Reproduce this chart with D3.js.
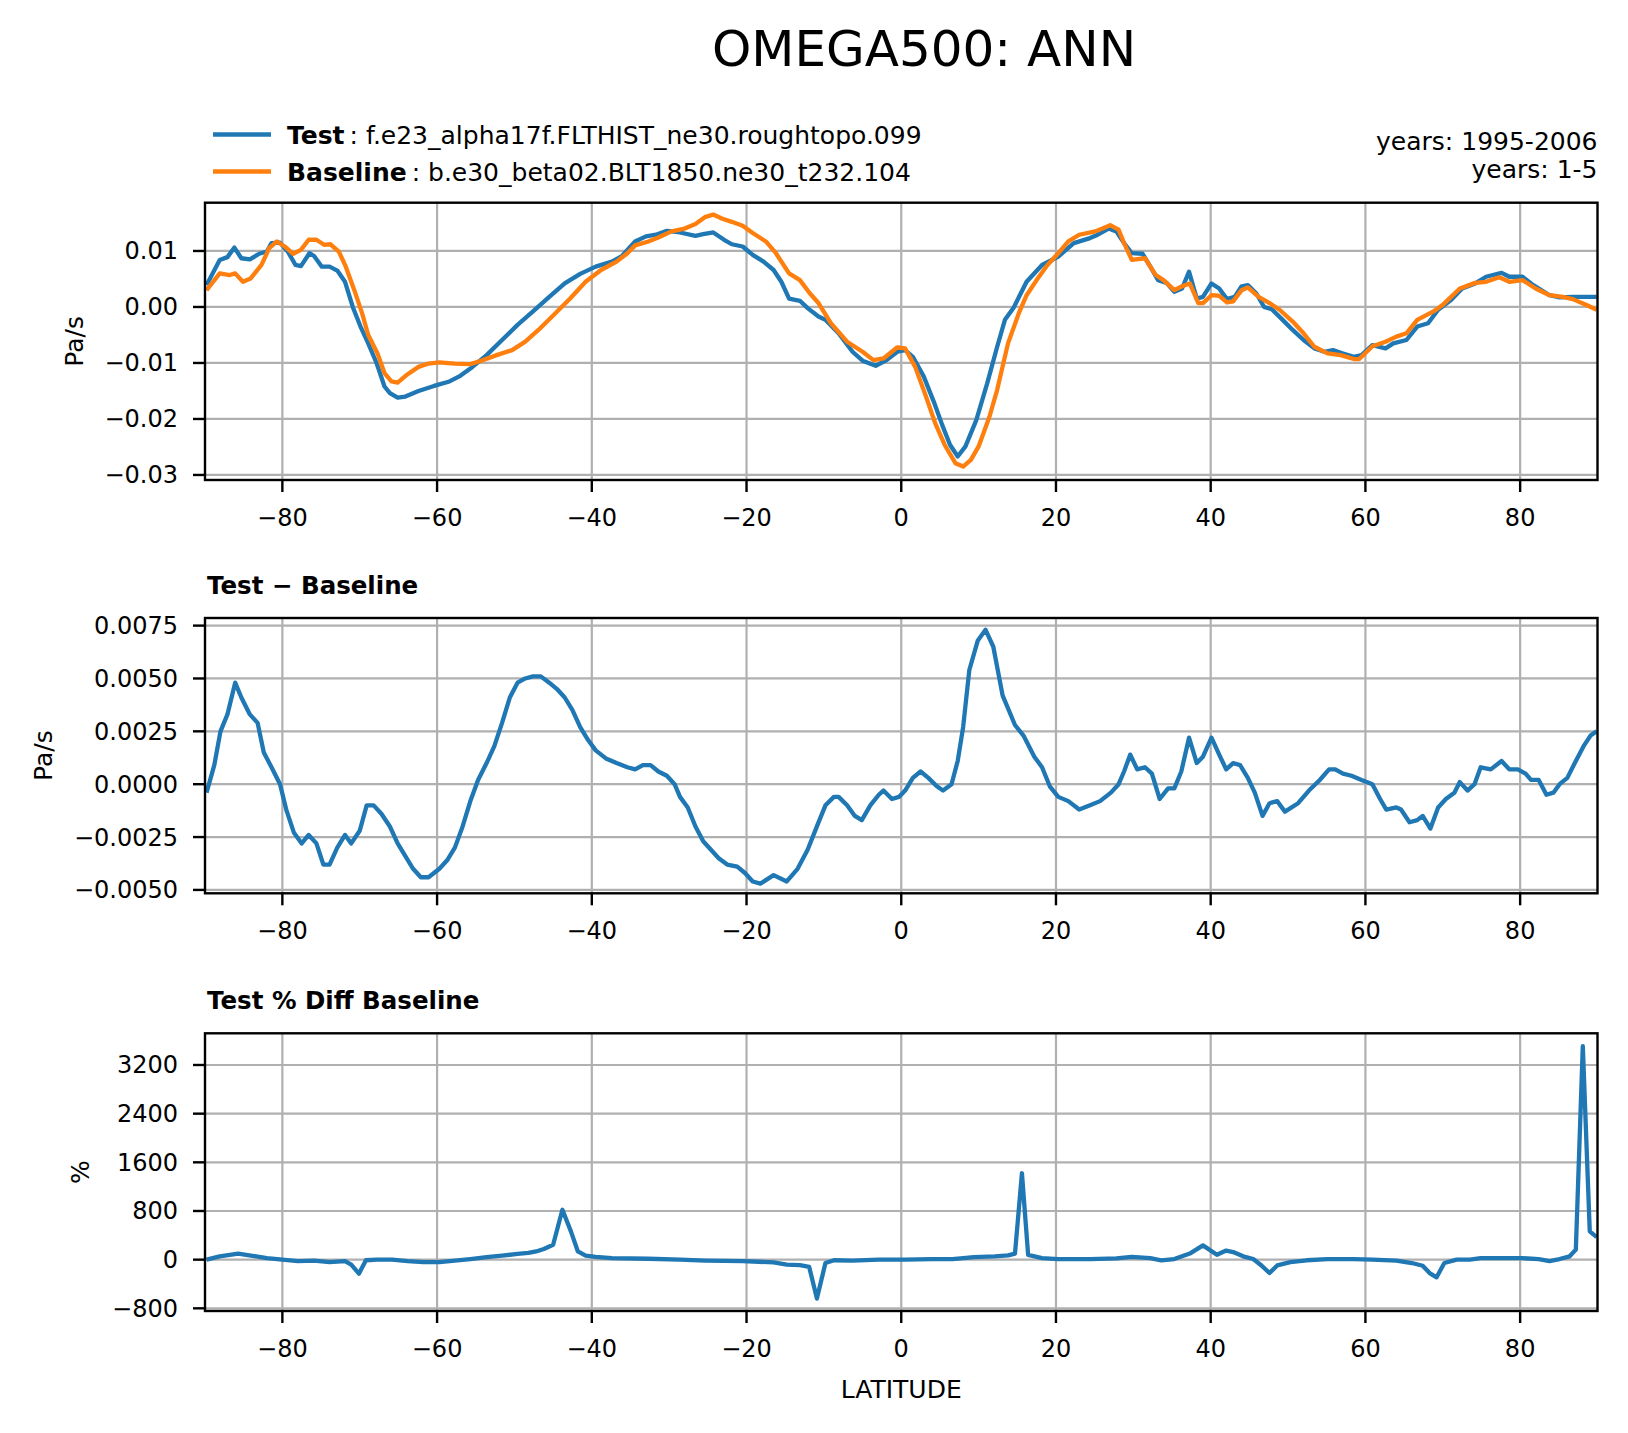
<!DOCTYPE html>
<html>
<head>
<meta charset="utf-8">
<script src="https://cdn.jsdelivr.net/npm/d3@7"></script>
<style>
  body { margin: 0; background: #fff; }
  svg text { font-family: 'DejaVu Sans', sans-serif; fill: #000; }
</style>
</head>
<body>
<div id="chart"></div>
<script>
// ── Data (latitude in degrees)
const testLat = [-89.8,-88.1,-87.1,-86.2,-85.3,-84.2,-83.0,-82.0,-81.4,-80.3,-79.3,-78.3,-77.6,-76.5,-75.9,-74.9,-73.9,-72.9,-71.9,-70.9,
  -69.9,-68.9,-67.8,-66.8,-66.1,-65.1,-64.1,-62.4,-60.4,-58.4,-57.0,-55.7,-53.6,-51.6,-49.6,-47.6,-45.5,-43.5,-41.5,-39.5,
  -37.4,-36.1,-34.4,-33.0,-31.7,-30.3,-28.6,-26.6,-25.6,-24.3,-22.9,-21.9,-20.5,-19.2,-17.8,-16.5,-15.5,-14.5,-13.1,-12.1,
  -10.7,-9.8,-8.1,-6.3,-5.0,-3.3,-1.9,-0.5,0.5,1.5,2.9,4.2,5.3,6.3,7.3,8.3,9.7,11.1,12.4,13.4,
  14.5,16.2,18.2,20.3,22.3,24.4,25.4,26.8,27.8,28.8,29.8,31.2,32.2,33.2,34.3,35.3,36.3,37.2,38.2,39.0,
  40.1,41.1,42.1,43.1,44.0,44.8,45.9,46.9,47.9,49.3,50.6,52.0,53.4,54.7,55.8,57.1,58.5,59.5,60.9,62.6,
  63.6,65.3,66.7,68.1,69.4,71.1,72.5,74.2,75.6,77.6,78.6,80.3,81.7,83.8,85.1,86.8,89.9];
const testOmega = [0.0039,0.0084,0.0089,0.0106,0.0087,0.0085,0.0095,0.0099,0.0114,0.0115,0.0099,0.0075,0.0073,0.0096,0.0091,0.0072,0.0072,0.0065,0.0045,0.0,
  -0.0035,-0.0065,-0.0101,-0.0142,-0.0154,-0.0162,-0.016,-0.015,-0.0141,-0.0133,-0.0123,-0.011,-0.0086,-0.0059,-0.0032,-0.0008,0.0018,0.0042,0.0059,0.0072,
  0.0081,0.0091,0.0117,0.0126,0.0129,0.0136,0.0133,0.0127,0.013,0.0133,0.012,0.0112,0.0108,0.0093,0.0081,0.0066,0.0045,0.0015,0.0011,-0.0002,
  -0.0017,-0.0023,-0.0047,-0.008,-0.0096,-0.0105,-0.0095,-0.008,-0.0077,-0.0089,-0.0124,-0.0169,-0.0211,-0.0246,-0.0267,-0.0249,-0.0202,-0.0137,-0.0071,-0.0023,
  -0.0002,0.0045,0.0075,0.009,0.0114,0.0123,0.0129,0.014,0.0135,0.0114,0.0096,0.0095,0.0072,0.0048,0.0043,0.0027,0.0033,0.0063,0.0015,0.0018,
  0.0042,0.0033,0.0014,0.0018,0.0037,0.0039,0.0024,0.0,-0.0004,-0.0023,-0.0041,-0.0059,-0.0074,-0.008,-0.0077,-0.0083,-0.0089,-0.0086,-0.0068,-0.0074,
  -0.0065,-0.0059,-0.0035,-0.0029,-0.0005,0.0013,0.0033,0.0042,0.0054,0.0061,0.0054,0.0054,0.0039,0.0021,0.0017,0.0018,0.0018];

const baseLat = [-89.8,-88.1,-86.8,-86.1,-85.1,-84.1,-82.7,-81.7,-80.7,-79.7,-78.6,-77.6,-76.6,-75.6,-74.6,-73.8,-72.7,-71.8,-70.7,-69.7,
  -68.9,-67.7,-66.8,-65.9,-65.1,-63.8,-62.4,-61.1,-59.7,-57.7,-55.7,-54.3,-52.3,-50.3,-48.6,-46.9,-44.9,-42.8,-40.8,-38.8,
  -36.8,-35.4,-34.4,-32.7,-31.4,-29.7,-28.0,-26.6,-25.3,-24.3,-23.2,-21.9,-20.5,-19.2,-17.5,-16.2,-14.5,-13.1,-11.8,-10.7,
  -9.1,-7.0,-5.0,-3.6,-2.3,-0.5,0.5,1.8,3.2,4.4,5.6,7.0,8.0,9.0,10.0,11.4,12.4,13.8,15.2,16.2,
  17.5,18.9,20.3,21.6,23.0,25.1,27.0,28.1,28.8,29.8,31.5,32.9,33.9,35.3,36.3,37.3,38.4,39.0,40.1,41.1,
  42.1,42.9,44.0,44.8,46.2,47.6,48.9,50.6,52.0,53.4,55.1,56.8,58.5,59.2,60.9,62.6,64.0,65.3,66.7,68.8,
  70.1,72.2,74.2,75.6,77.3,78.6,80.3,82.0,83.8,85.5,86.8,88.5,89.9];
const baseOmega = [0.003,0.006,0.0057,0.006,0.0045,0.0051,0.0075,0.0105,0.0117,0.0108,0.0095,0.0102,0.012,0.012,0.0111,0.0112,0.0099,0.0072,0.003,-0.0011,
  -0.005,-0.0083,-0.0118,-0.0133,-0.0135,-0.012,-0.0107,-0.0101,-0.0099,-0.0101,-0.0102,-0.0096,-0.0086,-0.0077,-0.0062,-0.0041,-0.0014,0.0015,0.0045,0.0066,
  0.0081,0.0096,0.011,0.0117,0.0124,0.0135,0.014,0.0148,0.0161,0.0165,0.0158,0.0152,0.0145,0.0132,0.0117,0.0096,0.006,0.0048,0.0024,0.0007,
  -0.0029,-0.0062,-0.008,-0.0095,-0.0092,-0.0072,-0.0074,-0.0107,-0.016,-0.0208,-0.0246,-0.0279,-0.0285,-0.0273,-0.0249,-0.0196,-0.0148,-0.0065,-0.0011,0.0021,
  0.0048,0.0075,0.0096,0.0117,0.0129,0.0135,0.0146,0.0138,0.0114,0.0084,0.0087,0.0057,0.0048,0.003,0.0037,0.0042,0.0007,0.0007,0.0021,0.002,
  0.0008,0.001,0.003,0.0035,0.0018,0.0007,-0.0005,-0.0026,-0.0047,-0.0071,-0.0083,-0.0086,-0.0093,-0.0093,-0.007,-0.0062,-0.0053,-0.0047,-0.0023,-0.0008,
  0.0005,0.0033,0.0043,0.0045,0.0053,0.0045,0.0048,0.0033,0.0021,0.0018,0.0014,0.0004,-0.0005];

const diffLat = [-89.8,-88.8,-88.0,-87.1,-86.1,-85.3,-84.2,-83.2,-82.4,-81.4,-80.3,-79.5,-78.5,-77.5,-76.6,-75.6,-74.7,-73.9,-72.9,-71.9,
  -71.1,-70.0,-69.1,-68.2,-67.2,-66.1,-65.1,-64.1,-63.1,-62.1,-61.1,-59.7,-58.7,-57.7,-56.7,-55.7,-54.7,-53.6,-52.6,-51.6,
  -50.6,-49.6,-48.6,-47.6,-46.6,-45.5,-44.5,-43.5,-42.5,-41.5,-40.5,-39.5,-38.1,-36.8,-35.4,-34.4,-33.4,-32.4,-31.4,-30.3,
  -29.3,-28.6,-27.6,-26.6,-25.6,-24.6,-23.6,-22.5,-21.2,-20.2,-19.2,-18.2,-16.5,-14.8,-13.4,-12.1,-10.8,-9.8,-8.7,-8.1,
  -7.0,-6.0,-5.1,-4.0,-2.9,-2.3,-1.2,-0.3,0.5,1.5,2.5,3.5,4.6,5.4,6.5,7.3,8.0,8.8,9.9,10.9,
  11.9,13.1,14.7,15.8,17.2,18.2,19.2,20.3,21.6,23.0,24.4,25.7,27.1,28.1,28.8,29.6,30.5,31.5,32.4,33.4,
  34.5,35.3,36.2,37.2,38.2,39.0,40.1,41.1,42.0,42.9,43.8,44.8,45.7,46.7,47.6,48.6,49.6,51.3,52.7,54.1,
  55.3,56.1,57.1,58.2,59.5,60.9,61.9,62.7,64.0,64.6,65.7,66.7,67.4,68.4,69.4,70.4,71.5,72.2,73.2,74.1,
  74.9,76.2,77.6,78.6,79.7,80.7,81.4,82.4,83.4,84.3,85.1,86.1,87.2,88.2,89.1,89.9];
const diffOmega = [-0.0004,0.0009,0.0025,0.0033,0.0048,0.0041,0.0033,0.0029,0.0015,0.0008,0.0,-0.0012,-0.0023,-0.0028,-0.0024,-0.0028,-0.0038,-0.0038,-0.003,-0.0024,
  -0.0028,-0.0022,-0.001,-0.001,-0.0014,-0.002,-0.0028,-0.0034,-0.004,-0.0044,-0.0044,-0.004,-0.0036,-0.003,-0.002,-0.0008,0.0002,0.001,0.0018,0.0029,
  0.0041,0.0048,0.005,0.0051,0.0051,0.0048,0.0045,0.0041,0.0035,0.0027,0.0021,0.0016,0.0012,0.001,0.0008,0.0007,0.0009,0.0009,0.0006,0.0004,
  0.0,-0.0006,-0.0011,-0.002,-0.0027,-0.0031,-0.0035,-0.0038,-0.0039,-0.0042,-0.0046,-0.0047,-0.0043,-0.0046,-0.004,-0.0031,-0.0019,-0.001,-0.0006,-0.0006,
  -0.001,-0.0015,-0.0017,-0.001,-0.0005,-0.0003,-0.0007,-0.0006,-0.0003,0.0003,0.0006,0.0003,-0.0001,-0.0003,0.0,0.0011,0.0027,0.0054,0.0068,0.0073,
  0.0065,0.0042,0.0028,0.0023,0.0013,0.0008,-0.0001,-0.0006,-0.0008,-0.0012,-0.001,-0.0008,-0.0004,0.0,0.0006,0.0014,0.0007,0.0008,0.0005,-0.0007,
  -0.0002,-0.0002,0.0006,0.0022,0.001,0.0013,0.0022,0.0014,0.0007,0.001,0.0009,0.0003,-0.0004,-0.0015,-0.0009,-0.0008,-0.0013,-0.0009,-0.0003,0.0002,
  0.0007,0.0007,0.0005,0.0004,0.0002,0.0,-0.0007,-0.0012,-0.0011,-0.0012,-0.0018,-0.0017,-0.0015,-0.0021,-0.0011,-0.0007,-0.0004,0.0001,-0.0003,0.0,
  0.0008,0.0007,0.0011,0.0007,0.0007,0.0005,0.0002,0.0002,-0.0005,-0.0004,0.0,0.0003,0.0011,0.0018,0.0023,0.0025];

const pctLat = [-89.8,-88.1,-86.8,-85.7,-84.7,-83.4,-82.0,-80.0,-78.0,-75.9,-73.9,-71.9,-71.1,-70.1,-69.2,-67.8,-65.8,-63.8,-61.8,-59.7,
  -57.7,-55.7,-53.6,-51.6,-49.6,-48.2,-47.2,-46.2,-45.0,-43.8,-42.7,-41.8,-40.8,-39.5,-37.4,-32.7,-28.6,-25.3,-20.5,-16.5,
  -14.8,-13.1,-11.9,-10.9,-9.8,-8.7,-6.3,-2.9,0.5,3.9,6.6,9.4,12.1,13.8,14.7,15.6,16.4,18.2,20.3,24.4,
  27.8,29.8,32.2,33.6,35.3,37.3,39.0,40.8,42.0,42.9,44.2,45.5,46.6,47.6,48.6,50.3,52.4,55.1,58.5,60.9,
  64.0,66.0,67.4,68.3,69.2,70.2,71.8,73.5,74.9,77.6,80.3,82.4,83.8,85.1,86.4,87.2,88.1,89.0,89.9];
const pctDiff = [0,55,80,100,80,55,25,0,-25,-15,-40,-25,-80,-230,-10,0,0,-25,-40,-40,
  -15,10,40,65,95,110,135,175,245,820,465,135,65,45,25,15,0,-15,-25,-45,
  -80,-90,-120,-640,-55,-10,-15,0,0,10,10,40,55,70,100,1420,80,25,10,10,
  20,45,25,-10,10,100,235,80,150,125,55,10,-100,-220,-95,-40,-10,10,10,0,
  -15,-55,-100,-220,-290,-55,0,0,25,25,25,10,-25,10,55,165,3510,465,370];

const xTicks = [-80, -60, -40, -20, 0, 20, 40, 60, 80];
const omegaTicks = [-0.03, -0.02, -0.01, 0.00, 0.01];
const diffTicks = [-0.005, -0.0025, 0, 0.0025, 0.005, 0.0075];
const pctTicks = [-800, 0, 800, 1600, 2400, 3200];

// ── Layout (pixels of the 1628×1433 figure)
const W = 1628, H = 1433;
const X0 = 205, X1 = 1597.5;
const BLUE = '#1f77b4', ORANGE = '#ff7f0e';
const GRID = '#b0b0b0';
const FS = 24;      // tick labels
const LFS = 25;     // labels, legend, annotations

const svg = d3.select('#chart').append('svg')
  .attr('width', W).attr('height', H)
  .style('display', 'block');

const x = d3.scaleLinear().domain([-90, 90]).range([X0, X1]);

svg.append('text')
  .attr('x', 924).attr('y', 66)
  .attr('text-anchor', 'middle')
  .attr('font-size', '50px')
  .text('OMEGA500: ANN');

function drawPanel(p, idx) {
  const y = d3.scaleLinear().domain(p.yDomain).range([p.bottom, p.top]);
  const g = svg.append('g');

  g.append('clipPath').attr('id', 'clip' + idx)
    .append('rect')
    .attr('x', X0).attr('y', p.top)
    .attr('width', X1 - X0).attr('height', p.bottom - p.top);

  // grid
  g.selectAll('.gx').data(xTicks).enter().append('line')
    .attr('x1', d => x(d)).attr('x2', d => x(d))
    .attr('y1', p.top).attr('y2', p.bottom)
    .attr('stroke', GRID).attr('stroke-width', 2.2);
  g.selectAll('.gy').data(p.ticks).enter().append('line')
    .attr('x1', X0).attr('x2', X1)
    .attr('y1', d => y(d)).attr('y2', d => y(d))
    .attr('stroke', GRID).attr('stroke-width', 2.2);

  // data lines
  const line = d3.line().x(d => x(d[0])).y(d => y(d[1]));
  p.series.forEach(s => {
    g.append('path')
      .datum(d3.zip(s.lat, s.val))
      .attr('d', line)
      .attr('clip-path', `url(#clip${idx})`)
      .attr('fill', 'none')
      .attr('stroke', s.color)
      .attr('stroke-width', 4.3)
      .attr('stroke-linejoin', 'round');
  });

  // spines
  g.append('rect')
    .attr('x', X0).attr('y', p.top)
    .attr('width', X1 - X0).attr('height', p.bottom - p.top)
    .attr('fill', 'none').attr('stroke', '#000').attr('stroke-width', 2.4);

  // x axis ticks and labels
  xTicks.forEach(t => {
    g.append('line')
      .attr('x1', x(t)).attr('x2', x(t))
      .attr('y1', p.bottom).attr('y2', p.bottom + 12)
      .attr('stroke', '#000').attr('stroke-width', 2.4);
    g.append('text')
      .attr('x', x(t)).attr('y', p.bottom + 46)
      .attr('text-anchor', 'middle')
      .attr('font-size', FS + 'px')
      .text(d3.format('d')(t));
  });

  // y axis ticks and labels
  p.ticks.forEach(t => {
    g.append('line')
      .attr('x1', X0 - 12).attr('x2', X0)
      .attr('y1', y(t)).attr('y2', y(t))
      .attr('stroke', '#000').attr('stroke-width', 2.4);
    g.append('text')
      .attr('x', X0 - 27).attr('y', y(t) + 8.5)
      .attr('text-anchor', 'end')
      .attr('font-size', FS + 'px')
      .text(p.fmt(t));
  });

  // y label
  const cy = (p.top + p.bottom) / 2;
  g.append('text')
    .attr('transform', `translate(${p.ylabelX},${cy}) rotate(-90)`)
    .attr('text-anchor', 'middle')
    .attr('font-size', LFS + 'px')
    .text(p.ylabel);

  if (p.title) {
    g.append('text')
      .attr('x', X0 + 2).attr('y', p.top - 24)
      .attr('font-size', '24.5px').attr('font-weight', 'bold')
      .text(p.title);
  }
}

const panels = [
  { top: 202.7, bottom: 480, yDomain: [-0.0309, 0.01862], ticks: omegaTicks,
    fmt: d3.format('.2f'), ylabel: 'Pa/s', ylabelX: 83,
    series: [{ lat: testLat, val: testOmega, color: BLUE },
             { lat: baseLat, val: baseOmega, color: ORANGE }] },
  { top: 618, bottom: 893.3, yDomain: [-0.00516, 0.00786], ticks: diffTicks,
    fmt: d3.format('.4f'), ylabel: 'Pa/s', ylabelX: 52, title: 'Test \u2212 Baseline',
    series: [{ lat: diffLat, val: diffOmega, color: BLUE }] },
  { top: 1033.3, bottom: 1311, yDomain: [-844, 3721], ticks: pctTicks,
    fmt: d3.format('d'), ylabel: '%', ylabelX: 88.5, title: 'Test % Diff Baseline',
    series: [{ lat: pctLat, val: pctDiff, color: BLUE }] }
];
panels.forEach(drawPanel);

// ── Legend (above first panel)
const legend = [
  { name: 'Test', run: 'f.e23_alpha17f.FLTHIST_ne30.roughtopo.099', color: BLUE, y: 134.5 },
  { name: 'Baseline', run: 'b.e30_beta02.BLT1850.ne30_t232.104', color: ORANGE, y: 171.5 }
];
legend.forEach(l => {
  svg.append('line')
    .attr('x1', 213).attr('x2', 271)
    .attr('y1', l.y).attr('y2', l.y)
    .attr('stroke', l.color).attr('stroke-width', 4.3);
  const t = svg.append('text')
    .attr('x', 287).attr('y', l.y + 9)
    .attr('font-size', LFS + 'px');
  t.append('tspan').attr('font-weight', 'bold').text(l.name);
  t.append('tspan').text('\u2009: ' + l.run);
});

svg.append('text')
  .attr('x', X1).attr('y', 150)
  .attr('text-anchor', 'end').attr('font-size', LFS + 'px')
  .text('years: 1995-2006');
svg.append('text')
  .attr('x', X1).attr('y', 178)
  .attr('text-anchor', 'end').attr('font-size', LFS + 'px')
  .text('years: 1-5');

svg.append('text')
  .attr('x', (X0 + X1) / 2).attr('y', 1398)
  .attr('text-anchor', 'middle').attr('font-size', LFS + 'px')
  .text('LATITUDE');
</script>
</body>
</html>
